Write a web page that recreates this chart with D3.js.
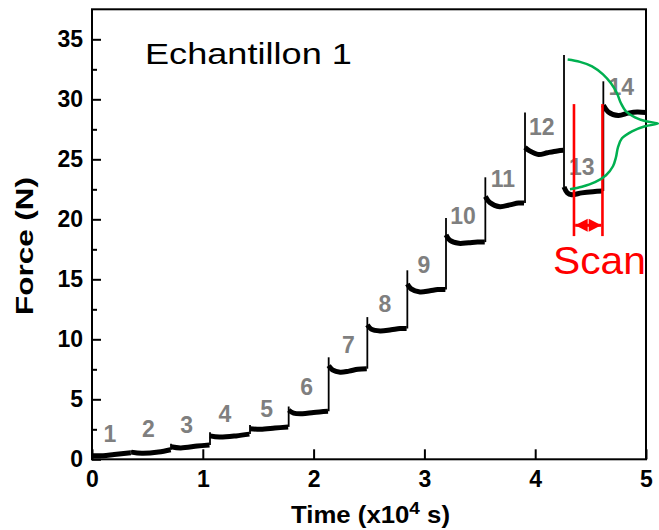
<!DOCTYPE html>
<html>
<head>
<meta charset="utf-8">
<script src="https://cdn.jsdelivr.net/npm/d3@7/dist/d3.min.js"></script>
<style>
  html, body { margin: 0; padding: 0; background: #fff; }
  svg { display: block; font-family: "Liberation Sans", Arial, sans-serif; }
</style>
</head>
<body>
<svg id="chart" width="659" height="530"></svg>
<script>
// ---------------- data ----------------
const xTicks = [0, 1, 2, 3, 4, 5];
const yTicks = [0, 5, 10, 15, 20, 25, 30, 35];
const yMinorTicks = [2.5, 7.5, 12.5, 17.5, 22.5, 27.5, 32.5];

// time (x10^4 s) at which each loading step starts
const stepStarts = [0, 0.355, 0.713, 1.065, 1.426, 1.775, 2.136, 2.485, 2.846, 3.195, 3.55, 3.908, 4.26, 4.615];
// force peak (N) reached at each step's jump
const stepPeaks = [0.3, 0.75, 1.3, 2.25, 2.85, 4.4, 8.5, 11.85, 15.75, 20.1, 23.5, 28.9, 33.7, 31.5];
// relaxation plateau of each step: [time, force]
const plateaus = [
  [[0.0, 0.3], [0.1, 0.3], [0.2, 0.4], [0.35, 0.55]],
  [[0.355, 0.6], [0.45, 0.5], [0.6, 0.6], [0.71, 0.8]],
  [[0.713, 1.05], [0.8, 0.95], [0.95, 1.1], [1.06, 1.2]],
  [[1.065, 1.95], [1.15, 1.85], [1.3, 1.95], [1.42, 2.1]],
  [[1.426, 2.55], [1.52, 2.5], [1.65, 2.6], [1.77, 2.7]],
  [[1.775, 4.1], [1.82, 3.85], [1.9, 3.8], [2.0, 3.9], [2.13, 4.0]],
  [[2.136, 7.8], [2.17, 7.45], [2.24, 7.25], [2.32, 7.35], [2.40, 7.5], [2.48, 7.55]],
  [[2.485, 11.2], [2.52, 10.85], [2.6, 10.7], [2.7, 10.8], [2.78, 10.9], [2.84, 10.9]],
  [[2.846, 14.6], [2.88, 14.2], [2.96, 13.95], [3.05, 14.05], [3.12, 14.15], [3.19, 14.15]],
  [[3.195, 18.7], [3.23, 18.25], [3.31, 18.0], [3.4, 18.05], [3.48, 18.1], [3.545, 18.1]],
  [[3.55, 21.9], [3.59, 21.4], [3.68, 21.05], [3.77, 21.2], [3.85, 21.35], [3.9, 21.35]],
  [[3.908, 26.0], [3.95, 25.7], [4.03, 25.4], [4.11, 25.55], [4.2, 25.7], [4.255, 25.75]],
  [[4.26, 22.7], [4.29, 22.2], [4.33, 22.05], [4.42, 22.2], [4.52, 22.3], [4.61, 22.35]],
  [[4.615, 29.5], [4.66, 28.95], [4.75, 28.65], [4.84, 28.85], [4.92, 28.95], [5.0, 28.9]]
];
// step number labels: [text, time, force]
const stepLabels = [
  ["1", 0.162, 1.47], ["2", 0.508, 1.88], ["3", 0.855, 2.21], ["4", 1.2, 3.08],
  ["5", 1.577, 3.5], ["6", 1.938, 5.35], ["7", 2.313, 8.83], ["8", 2.644, 12.29],
  ["9", 2.996, 15.49], ["10", 3.348, 19.59], ["11", 3.709, 22.7], ["12", 4.059, 27.0],
  ["13", 4.42, 23.67], ["14", 4.777, 30.33]
];
// scan window (time) and the force span of the red markers
const scanTimes = [4.35, 4.607];
const scanForceRange = [18.6, 29.6];
const scanArrowForce = 19.5;
// green distribution sketch: [time, force]
const greenCurve = [
  [4.293, 33.31], [4.404, 33.12], [4.513, 32.75], [4.612, 32.08], [4.684, 31.33],
  [4.738, 30.5], [4.774, 29.67], [4.819, 29.0], [4.9, 28.5], [5.0, 28.17],
  [5.108, 27.98], [4.991, 27.75], [4.874, 27.33], [4.783, 26.75], [4.747, 26.0],
  [4.729, 25.17], [4.702, 24.42], [4.639, 23.67], [4.54, 23.09], [4.422, 22.71],
  [4.314, 22.5]
];

// ---------------- layout ----------------
const svg = d3.select("#chart");
const mLeft = 92, mRight = 646, mTop = 9.3, mBottom = 459.3;
const x = d3.scaleLinear().domain([0, 5]).range([mLeft, mRight]);
const y = d3.scaleLinear().domain([0, 37.5]).range([mBottom, mTop]);

const FONT = "'Liberation Sans', Arial, sans-serif";

// axes
const yAxis = d3.axisLeft(y).tickValues(yTicks).tickSize(-9).tickPadding(9).tickFormat(d3.format("d"));
const yMinor = d3.axisLeft(y).tickValues(yMinorTicks).tickSize(-5).tickFormat("");
const xAxis = d3.axisBottom(x).tickValues(xTicks).tickSize(-10).tickPadding(11).tickFormat(d3.format("d"));

function styleAxis(g) {
  g.select(".domain").remove();
  g.selectAll(".tick line").attr("stroke", "#000").attr("stroke-width", 2);
  g.selectAll(".tick text").attr("fill", "#000").style("font-family", FONT)
    .style("font-size", "23px").style("font-weight", "bold");
}
svg.append("g").attr("transform", `translate(${mLeft},0)`).call(yAxis).call(styleAxis);
svg.append("g").attr("transform", `translate(${mLeft},0)`).call(yMinor).call(styleAxis);
svg.append("g").attr("transform", `translate(0,${mBottom})`).call(xAxis).call(styleAxis);

// frame
svg.append("rect").attr("x", mLeft).attr("y", mTop).attr("width", mRight - mLeft).attr("height", mBottom - mTop)
  .attr("fill", "none").attr("stroke", "#000").attr("stroke-width", 2);

// fit helper: scale text horizontally to a target width
function fitWidth(textSel, target, ax, ay) {
  const w = textSel.node().getBBox().width;
  const s = target / w;
  textSel.attr("transform", `translate(${ax},${ay}) scale(${s},1) translate(${-ax},${-ay})`);
}

// axis titles
const yt = svg.append("text").attr("text-anchor", "middle")
  .attr("transform", "translate(33,246) rotate(-90)")
  .style("font-family", FONT).style("font-size", "23px").style("font-weight", "bold")
  .text("Force (N)");
{
  const w = yt.node().getBBox().width;
  yt.attr("transform", `translate(33,246) rotate(-90) scale(${138 / w},1)`);
}
const xt = svg.append("text").attr("x", 370.5).attr("y", 523).attr("text-anchor", "middle")
  .style("font-family", FONT).style("font-size", "23px").style("font-weight", "bold");
xt.append("tspan").text("Time (x10");
xt.append("tspan").attr("dy", -9).style("font-size", "17px").text("4");
xt.append("tspan").attr("dy", 9).text(" s)");
fitWidth(xt, 159, 370.5, 523);

// sample title
const tt = svg.append("text").attr("x", 145).attr("y", 64.5)
  .style("font-family", FONT).style("font-size", "30px").attr("fill", "#000")
  .text("Echantillon 1");
fitWidth(tt, 207, 145, 64.5);

// step vertical jumps (thin)
const jumps = svg.append("g");
stepStarts.forEach((t, i) => {
  if (i === 0) return;
  const prevEnd = plateaus[i - 1][plateaus[i - 1].length - 1][1];
  const start = plateaus[i][0][1];
  jumps.append("line")
    .attr("x1", x(t)).attr("x2", x(t))
    .attr("y1", y(Math.min(prevEnd, start))).attr("y2", y(stepPeaks[i]))
    .attr("stroke", "#000").attr("stroke-width", 1.8);
});

// plateaus (thick)
const line = d3.line().x(d => x(d[0])).y(d => y(d[1])).curve(d3.curveCatmullRom.alpha(0.5));
svg.append("g").selectAll("path").data(plateaus).join("path")
  .attr("d", line).attr("fill", "none").attr("stroke", "#000")
  .attr("stroke-width", 5).attr("stroke-linecap", "butt");

// step labels
svg.append("g").selectAll("text").data(stepLabels).join("text")
  .attr("x", d => x(d[1])).attr("y", d => y(d[2])).attr("text-anchor", "middle")
  .style("font-family", FONT).style("font-size", "23px").style("font-weight", "bold")
  .attr("fill", "#7f7f7f").text(d => d[0]);

// scan markers
const red = "#ff0000";
scanTimes.forEach(t => {
  svg.append("line").attr("x1", x(t)).attr("x2", x(t))
    .attr("y1", y(scanForceRange[1])).attr("y2", y(scanForceRange[0]))
    .attr("stroke", red).attr("stroke-width", 2.6);
});
{
  const xa = x(scanTimes[0]) + 1.2, xb = x(scanTimes[1]) - 1.2, ya = y(scanArrowForce);
  const xm = (xa + xb) / 2;
  svg.append("line").attr("x1", xa).attr("x2", xb).attr("y1", ya).attr("y2", ya)
    .attr("stroke", red).attr("stroke-width", 3);
  const hw = 6.5;
  svg.append("path").attr("d", `M${xa},${ya} L${xm - 0.5},${ya - hw} L${xm - 0.5},${ya + hw} Z`).attr("fill", red);
  svg.append("path").attr("d", `M${xb},${ya} L${xm + 0.5},${ya - hw} L${xm + 0.5},${ya + hw} Z`).attr("fill", red);
}
const st = svg.append("text").attr("x", 553).attr("y", 274.5)
  .style("font-family", FONT).style("font-size", "38px").attr("fill", red).text("Scan");
fitWidth(st, 93, 553, 274.5);

// green distribution curve
svg.append("path").datum(greenCurve)
  .attr("d", d3.line().x(d => x(d[0])).y(d => y(d[1])).curve(d3.curveCatmullRom.alpha(0.5)))
  .attr("fill", "none").attr("stroke", "#00b050").attr("stroke-width", 2.5);
</script>
</body>
</html>
